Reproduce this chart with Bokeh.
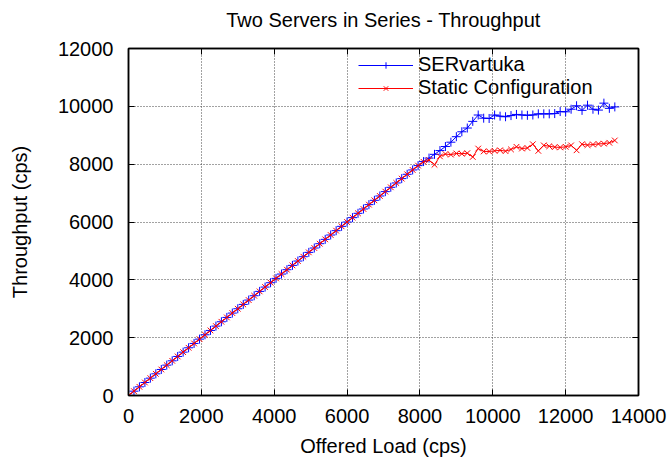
from bokeh.plotting import figure
from bokeh.models import LinearAxis, FixedTicker, Legend, LegendItem, ColumnDataSource
from bokeh.embed import file_html
from bokeh.resources import INLINE

offered_load = [0, 150, 300, 450, 600, 750, 900, 1050, 1200, 1350, 1500, 1650, 1800, 1950,
                2100, 2250, 2400, 2550, 2700, 2850, 3000, 3150, 3300, 3450, 3600, 3750, 3900,
                4050, 4200, 4350, 4500, 4650, 4800, 4950, 5100, 5250, 5400, 5550, 5700, 5850,
                6000, 6150, 6300, 6450, 6600, 6750, 6900, 7050, 7200, 7350, 7500, 7650, 7800,
                7950, 8100, 8250, 8400, 8550, 8700, 8850, 9000, 9150, 9300, 9450, 9600, 9750,
                9900, 10050, 10200, 10350, 10500, 10650, 10800, 10950, 11100, 11250, 11400,
                11550, 11700, 11850, 12000, 12150, 12300, 12450, 12600, 12750, 12900, 13050,
                13200, 13350]

servartuka = [0, 150, 300, 450, 600, 750, 900, 1050, 1200, 1350, 1500, 1650, 1800, 1950,
              2100, 2250, 2400, 2550, 2700, 2850, 3000, 3150, 3300, 3450, 3600, 3750, 3900,
              4050, 4200, 4350, 4500, 4650, 4800, 4950, 5100, 5250, 5400, 5550, 5700, 5850,
              6000, 6150, 6300, 6450, 6600, 6750, 6900, 7050, 7200, 7350, 7500, 7650, 7800,
              7950, 8090, 8210, 8340, 8470, 8610, 8760, 8950, 9120, 9250, 9480, 9700, 9590,
              9580, 9700, 9660, 9640, 9680, 9720, 9700, 9690, 9700, 9740, 9740, 9740, 9750,
              9820, 9810, 9900, 10020, 9860, 10040, 9900, 9870, 10110, 9930, 9980]

static_cfg = [0, 150, 300, 450, 600, 750, 900, 1050, 1200, 1350, 1500, 1650, 1800, 1950,
              2100, 2250, 2400, 2550, 2700, 2850, 3000, 3150, 3300, 3450, 3600, 3750, 3900,
              4050, 4200, 4350, 4500, 4650, 4800, 4950, 5100, 5250, 5400, 5550, 5700, 5850,
              6000, 6150, 6300, 6450, 6600, 6750, 6900, 7050, 7200, 7350, 7500, 7650, 7800,
              7950, 8080, 8140, 7980, 8270, 8350, 8330, 8370, 8360, 8380, 8250, 8540, 8440,
              8440, 8460, 8480, 8450, 8510, 8600, 8540, 8560, 8690, 8460, 8650, 8620, 8590,
              8580, 8600, 8650, 8480, 8690, 8660, 8680, 8700, 8710, 8740, 8820]

x_ticks = [0, 2000, 4000, 6000, 8000, 10000, 12000, 14000]
y_ticks = [0, 2000, 4000, 6000, 8000, 10000, 12000]

TITLE = "Two Servers in Series - Throughput"
FONT = "Liberation Sans"

src = ColumnDataSource(dict(x=offered_load, a=servartuka, b=static_cfg))

p = figure(width=668, height=459, x_range=(0, 14000), y_range=(0, 12000),
           output_backend="svg", toolbar_location=None,
           min_border_left=128, min_border_right=30, min_border_top=48, min_border_bottom=63)

p.outline_line_color = "black"
p.outline_line_width = 1.5

for ax in (p.xaxis[0], p.yaxis[0]):
    ax.major_label_text_font = FONT
    ax.major_label_text_font_size = "20px"
    ax.major_label_text_color = "black"
    ax.axis_label_text_font = FONT
    ax.axis_label_text_font_size = "20px"
    ax.axis_label_text_font_style = "normal"
    ax.axis_label_text_color = "black"
    ax.major_tick_in = 6
    ax.major_tick_out = 0
    ax.minor_tick_in = 0
    ax.minor_tick_out = 0
    ax.axis_line_color = "black"
    ax.axis_line_width = 1.5
    ax.major_tick_line_color = "black"

p.xaxis[0].ticker = FixedTicker(ticks=x_ticks)
p.yaxis[0].ticker = FixedTicker(ticks=y_ticks)
p.xaxis[0].axis_label = "Offered Load (cps)"
p.yaxis[0].axis_label = "Throughput (cps)"
p.xaxis[0].major_label_standoff = 13
p.yaxis[0].major_label_standoff = 15
p.xaxis[0].axis_label_standoff = 9
p.yaxis[0].axis_label_standoff = 24

# top axis carries the chart title as its label (mirrored ticks, no tick labels)
top = LinearAxis(ticker=FixedTicker(ticks=x_ticks), major_label_text_color=None,
                 major_label_text_font_size="1px", major_label_standoff=0,
                 major_tick_in=6, major_tick_out=0, minor_tick_in=0, minor_tick_out=0,
                 axis_line_color="black", axis_line_width=1.5,
                 axis_label=TITLE, axis_label_text_font=FONT,
                 axis_label_text_font_size="20px", axis_label_text_font_style="normal",
                 axis_label_text_color="black", axis_label_standoff=18)
right = LinearAxis(ticker=FixedTicker(ticks=y_ticks), major_label_text_color=None,
                   major_label_text_font_size="1px", major_label_standoff=0,
                   major_tick_in=6, major_tick_out=0, minor_tick_in=0, minor_tick_out=0,
                   axis_line_color="black", axis_line_width=1.5)
p.add_layout(top, "above")
p.add_layout(right, "right")

p.xgrid.ticker = FixedTicker(ticks=x_ticks)
p.ygrid.ticker = FixedTicker(ticks=y_ticks)
p.xgrid.grid_line_color = "#444444"
p.ygrid.grid_line_color = "#444444"
p.xgrid.grid_line_dash = "1 2"
p.ygrid.grid_line_dash = "1 2"
p.xgrid.grid_line_width = 1
p.ygrid.grid_line_width = 1
p.xgrid.level = "image"
p.ygrid.level = "image"

l1 = p.line("x", "a", source=src, line_color="#0000ff", line_width=1)
m1 = p.scatter("x", "a", source=src, marker="cross", size=9, line_color="#0000ff", line_width=1)
l2 = p.line("x", "b", source=src, line_color="#ff0000", line_width=1)
m2 = p.scatter("x", "b", source=src, marker="x", size=8, line_color="#ff0000", line_width=1)

legend = Legend(items=[LegendItem(label="SERvartuka", renderers=[l1, m1]),
                       LegendItem(label="Static Configuration", renderers=[l2, m2])],
                location="top_right")
legend.label_text_font = FONT
legend.label_text_font_size = "20px"
legend.label_text_color = "black"
legend.glyph_width = 55
legend.glyph_height = 16
legend.label_height = 16
legend.label_width = 215
legend.label_standoff = 5
legend.spacing = -3
legend.padding = 0
legend.margin = 5
legend.border_line_color = None
legend.background_fill_alpha = 0
p.add_layout(legend)

open("out.html", "w").write(file_html(p, INLINE))
